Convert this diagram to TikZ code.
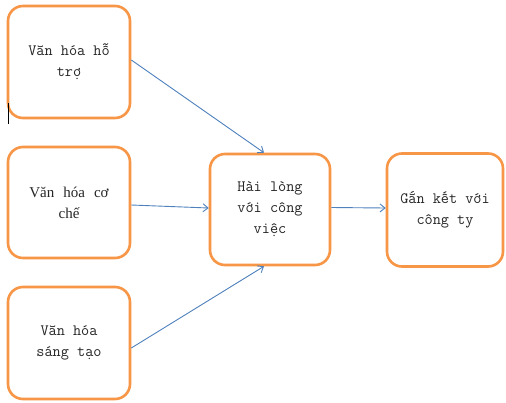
\documentclass[tikz,border=0pt]{standalone}
\usepackage{fontspec}
\usetikzlibrary{arrows.meta}
\newfontfamily\boxmono{Latin Modern Mono}
\newfontfamily\boxserif{Liberation Serif}
\definecolor{boxorange}{HTML}{F79646}
\definecolor{linkblue}{HTML}{4F81BD}
\definecolor{inktext}{HTML}{262626}
\tikzset{
  factor/.style={draw=boxorange, line width=2.6pt, rounded corners=15pt,
    fill=white, align=center, text=inktext, inner sep=2pt,
    font=\boxmono\fontsize{15.8}{21}\selectfont},
  link/.style={draw=linkblue, line width=0.9pt,
    -{Straight Barb[length=5pt,width=8pt]}}
}
\begin{document}
\begin{tikzpicture}[x=1pt,y=-1pt]
  \useasboundingbox (0,0) rectangle (506,402);
  \fill[white] (0,0) rectangle (506,402);

  % input factors
  \node[factor, minimum width=122pt, minimum height=112pt] (ho) at (69,62)
    {Văn hóa hỗ\\trợ};
  \node[factor, minimum width=122pt, minimum height=111pt,
        font=\boxserif\fontsize{15}{21}\selectfont] (che) at (69,202.5)
    {Văn\hspace{0.6em}hóa\hspace{0.6em}cơ\\chế};
  \node[factor, minimum width=122pt, minimum height=112pt] (tao) at (69,343)
    {Văn hóa\\sáng tạo};

  % mediator and outcome
  \node[factor, minimum width=120pt, minimum height=111pt] (hl) at (270,209.5)
    {Hài lòng\\với công\\việc};
  \node[factor, minimum width=116pt, minimum height=113pt] (gk) at (445,210)
    {Gắn kết với\\công ty};

  % paths
  \draw[link] ([yshift=2pt]ho.east) -- ([xshift=-6pt]hl.north);
  \draw[link] ([yshift=-2.5pt]che.east) -- ([yshift=1.5pt]hl.west);
  \draw[link] ([yshift=-5pt]tao.east) -- ([xshift=-6pt]hl.south);
  \draw[link] ([yshift=2pt]hl.east) -- ([yshift=2pt]gk.west);

  % text cursor mark
  \draw[black, line width=1pt] (8,103) -- (8,124);
\end{tikzpicture}
\end{document}
